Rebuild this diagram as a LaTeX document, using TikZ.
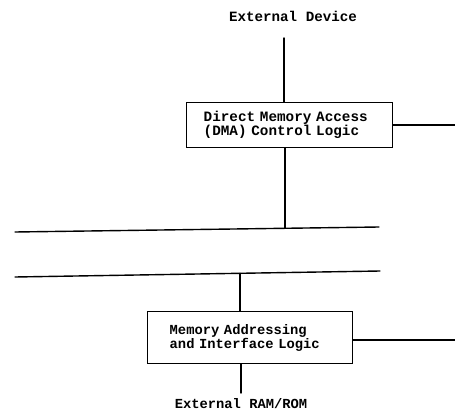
\documentclass[tikz,border=0pt]{standalone}
\usepackage{fontspec}
\setmonofont{Liberation Mono}
\begin{document}
\begin{tikzpicture}[x=1pt,y=-1pt,
  ln/.style={line width=1.4pt,line cap=round},
  lbl/.style={font=\ttfamily\bfseries\fontsize{14.2}{14}\selectfont, inner sep=0pt},
  blk/.style={draw,line width=1.4pt,font=\ttfamily\bfseries\fontsize{13.8}{14}\selectfont,
    align=left, inner ysep=0pt, anchor=north west}]
\useasboundingbox (0,0) rectangle (455,417);
\node[lbl] (dev) at (293,16) {External Device};
\node[blk, font=\ttfamily\bfseries\fontsize{14.3}{14}\selectfont, inner xsep=17pt, text width=172pt, minimum height=45pt] (dma) at (186,102)
  {Direct Memory Access\\(DMA) Control Logic};
\node[blk, inner xsep=22pt, text width=161pt, minimum height=52pt] (mem) at (147,311)
  {Memory Addressing\\and Interface Logic};
\node[lbl, font=\ttfamily\bfseries\fontsize{13.8}{14}\selectfont] (ram) at (241,404) {External RAM/ROM};
% buses
\coordinate (b1l) at (15,232);
\coordinate (b1r) at (379,227);
\coordinate (b2l) at (15,277);
\coordinate (b2r) at (380,271);
\draw[ln] (b1l) -- (b1r);
\draw[ln] (b2l) -- (b2r);
% connectors
\coordinate (dtop) at (284,38);
\draw[ln] (dtop) -- (dtop |- dma.north);
\coordinate (b1j) at (285,228.3);
\draw[ln] (b1j |- dma.south) -- (b1j);
\coordinate (b2j) at (240,273.4);
\draw[ln] (b2j) -- (b2j |- mem.north);
\coordinate (mbot) at (241,393);
\draw[ln] (mbot |- mem.south) -- (mbot);
\coordinate (r1) at (455,125);
\draw[ln] (dma.east |- r1) -- (r1);
\coordinate (r2) at (455,340);
\draw[ln] (mem.east |- r2) -- (r2);
\end{tikzpicture}
\end{document}
